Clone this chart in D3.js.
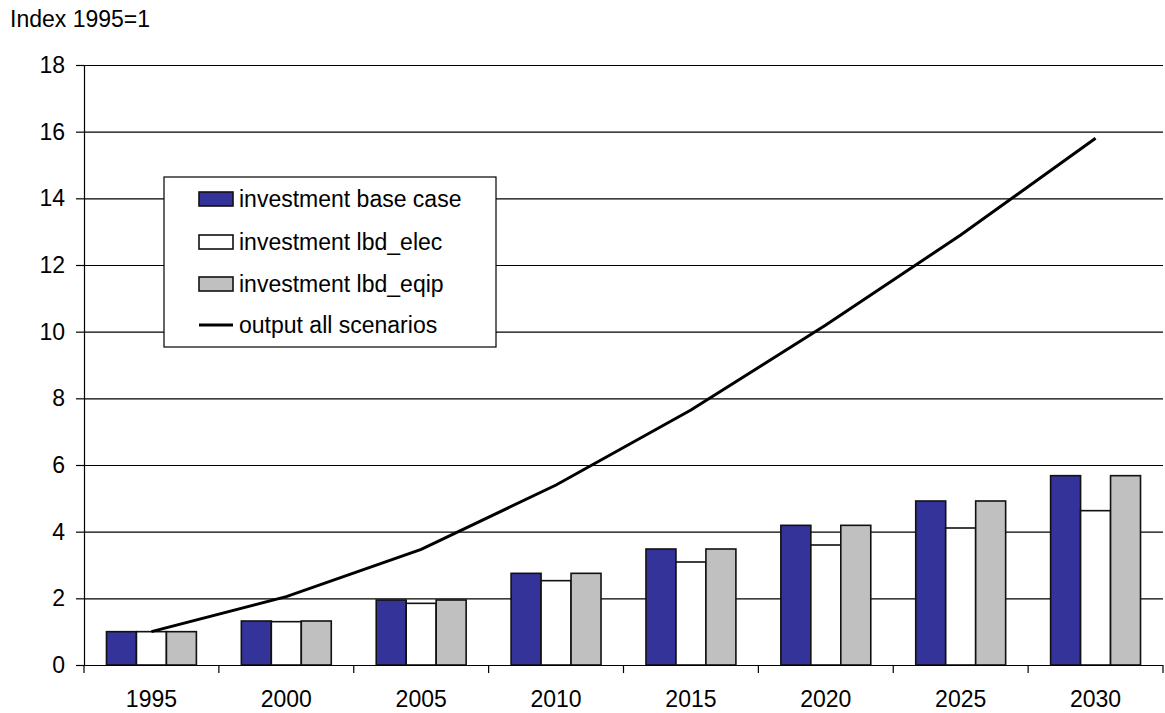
<!DOCTYPE html>
<html>
<head>
<meta charset="utf-8">
<script src="https://d3js.org/d3.v7.min.js"></script>
<style>
  body { margin: 0; background: #fff; }
  text { font-family: "Liberation Sans", Arial, sans-serif; }
</style>
</head>
<body>
<div id="main"></div>
<script>
const years = ["1995", "2000", "2005", "2010", "2015", "2020", "2025", "2030"];
const baseCase = [1.0, 1.32, 1.95, 2.75, 3.48, 4.19, 4.92, 5.68];
const lbdElec = [1.0, 1.30, 1.85, 2.53, 3.09, 3.60, 4.11, 4.63];
const lbdEqip = [1.0, 1.32, 1.95, 2.75, 3.48, 4.19, 4.92, 5.68];
const output = [1.0, 2.05, 3.47, 5.4, 7.65, 10.2, 12.9, 15.8];
const yTicks = [0, 2, 4, 6, 8, 10, 12, 14, 16, 18];
const seriesNames = ["investment base case", "investment lbd_elec", "investment lbd_eqip"];
const lineName = "output all scenarios";
const colors = ["#333399", "#ffffff", "#c0c0c0"];

const width = 1165, height = 713;
const margin = {top: 65, right: 2, bottom: 48, left: 84};
const fontSize = "23px";

const svg = d3.select("#main")
  .append("svg")
  .attr("width", width)
  .attr("height", height);

const x = d3.scaleBand()
  .domain(years)
  .range([margin.left, width - margin.right])
  .padding(0);

const xSub = d3.scaleBand()
  .domain(d3.range(3))
  .range([0, x.bandwidth()])
  .paddingInner(0)
  .paddingOuter(0.75);

const y = d3.scaleLinear()
  .domain([0, 18])
  .range([height - margin.bottom, margin.top]);

// gridlines
svg.append("g")
  .selectAll("line")
  .data(yTicks.filter(d => d > 0))
  .enter()
  .append("line")
  .attr("x1", margin.left)
  .attr("x2", width - margin.right)
  .attr("y1", d => y(d) + 0.5)
  .attr("y2", d => y(d) + 0.5)
  .attr("stroke", "#000")
  .attr("stroke-width", 1.2);

// bars
const series = [baseCase, lbdElec, lbdEqip];
series.forEach(function(vals, i) {
  svg.append("g")
    .selectAll("rect")
    .data(vals)
    .enter()
    .append("rect")
    .attr("x", (d, j) => x(years[j]) + xSub(i))
    .attr("y", d => y(d))
    .attr("width", xSub.bandwidth())
    .attr("height", d => y(0) - y(d))
    .attr("fill", colors[i])
    .attr("stroke", "#111")
    .attr("stroke-width", 1.6);
});

// line
const line = d3.line()
  .x((d, j) => x(years[j]) + x.bandwidth() / 2)
  .y(d => y(d));

svg.append("path")
  .datum(output)
  .attr("d", line)
  .attr("fill", "none")
  .attr("stroke", "#000")
  .attr("stroke-width", 3);

// axes
const yAxis = d3.axisLeft(y).tickValues(yTicks).tickSize(8).tickPadding(11).tickFormat(d3.format("d"));
const gy = svg.append("g")
  .attr("transform", "translate(" + margin.left + ",0)")
  .call(yAxis);

const xAxis = d3.axisBottom(x).tickSize(0).tickPadding(26);
const gx = svg.append("g")
  .attr("transform", "translate(0," + y(0) + ")")
  .call(xAxis);

// category boundary ticks
gx.selectAll(".bound")
  .data(years.concat(["end"]))
  .enter()
  .append("line")
  .attr("x1", (d, j) => j < years.length ? x(d) : x.range()[1])
  .attr("x2", (d, j) => j < years.length ? x(d) : x.range()[1])
  .attr("y1", 0)
  .attr("y2", 8)
  .attr("stroke", "#000")
  .attr("stroke-width", 1.2);

[gx, gy].forEach(function(g) {
  g.select(".domain").attr("stroke", "#000").attr("stroke-width", 1.2);
  g.selectAll(".tick line").attr("stroke", "#000").attr("stroke-width", 1.2);
  g.selectAll("text")
    .attr("fill", "#000")
    .style("font-size", fontSize)
    .style("font-family", "'Liberation Sans', Arial, sans-serif");
});
gx.select(".domain").attr("d", "M" + x.range()[0] + ",0.5H" + x.range()[1]);

// axis title
svg.append("text")
  .attr("x", 10)
  .attr("y", 27)
  .style("font-size", fontSize)
  .text("Index 1995=1");

// legend
const legend = svg.append("g").attr("transform", "translate(164,177)");
legend.append("rect")
  .attr("width", 332)
  .attr("height", 170)
  .attr("fill", "#fff")
  .attr("stroke", "#000")
  .attr("stroke-width", 1.2);

const rowY = [22, 65, 107, 148];
seriesNames.forEach(function(name, i) {
  legend.append("rect")
    .attr("x", 35)
    .attr("y", rowY[i] - 7)
    .attr("width", 34)
    .attr("height", 14)
    .attr("fill", colors[i])
    .attr("stroke", "#111")
    .attr("stroke-width", 1.6);
  legend.append("text")
    .attr("x", 75)
    .attr("y", rowY[i])
    .attr("dy", "0.36em")
    .style("font-size", fontSize)
    .text(name);
});
legend.append("line")
  .attr("x1", 35)
  .attr("x2", 69)
  .attr("y1", rowY[3])
  .attr("y2", rowY[3])
  .attr("stroke", "#000")
  .attr("stroke-width", 3);
legend.append("text")
  .attr("x", 75)
  .attr("y", rowY[3])
  .attr("dy", "0.36em")
  .style("font-size", fontSize)
  .text(lineName);
</script>
</body>
</html>
